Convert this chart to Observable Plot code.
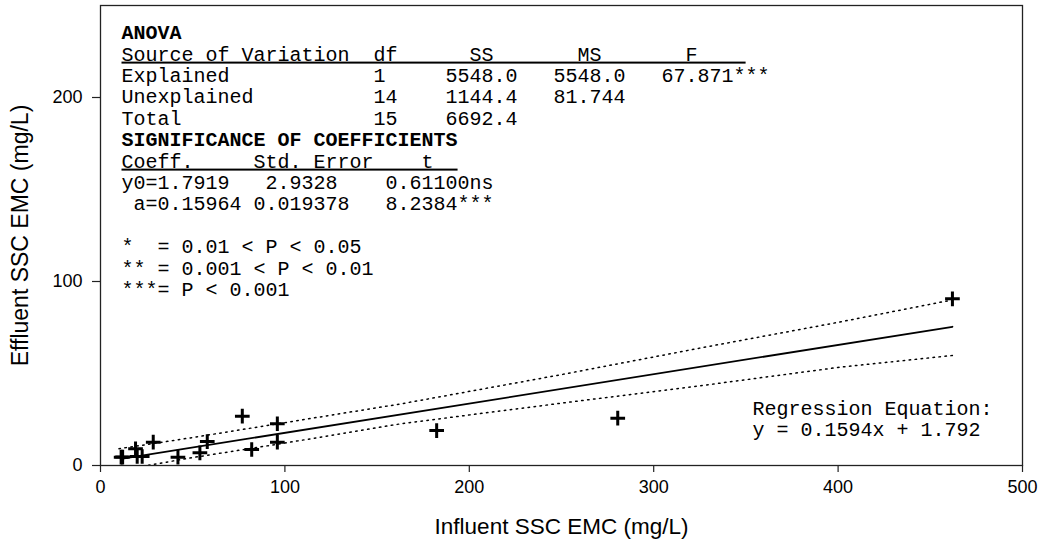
<!DOCTYPE html>
<html>
<head>
<meta charset="utf-8">
<script src="https://cdn.jsdelivr.net/npm/d3@7"></script>
<script src="https://cdn.jsdelivr.net/npm/@observablehq/plot@0.6"></script>
<style>
  html, body { margin: 0; padding: 0; background: #fff; }
  .ul text { text-decoration: underline; text-decoration-thickness: 1.3px; text-underline-offset: 3px; }
</style>
</head>
<body>
<div id="chart"></div>
<script>
// ---- data ----
const influent = [11.2, 12.0, 19.0, 19.9, 22.6, 28.6, 42.0, 53.9, 57.9, 76.9, 82.0, 95.9, 95.9, 182.3, 280.5, 462.0];
const effluent = [4.5, 4.6, 9.1, 4.9, 4.9, 12.7, 4.5, 6.9, 13.0, 26.8, 8.7, 22.7, 12.7, 19.0, 25.7, 90.6];

// fitted line end points (y = 0.1594x + 1.792)
const fitX = [11.2, 462.0];
const fitY = [3.6, 75.4];

// dotted confidence band
const bandX = [10, 50, 100, 163, 250, 325, 400, 462];
const bandUpper = [9.1, 15.2, 23.3, 33.5, 49.4, 63.8, 77.8, 90.0];
const bandLower = [-2.6, 4.3, 12.2, 22.7, 33.9, 43.3, 53.3, 59.8];

const xTicks = [0, 100, 200, 300, 400, 500];
const yTicks = [0, 100, 200];

const xTitle = "Influent SSC EMC (mg/L)";
const yTitle = "Effluent SSC EMC (mg/L)";

// [text, bold, underlined]
const reportLines = [
  ["ANOVA", true, false],
  ["Source of Variation  df      SS       MS       F    ", false, true],
  ["Explained            1     5548.0   5548.0   67.871***", false, false],
  ["Unexplained          14    1144.4   81.744", false, false],
  ["Total                15    6692.4", false, false],
  ["SIGNIFICANCE OF COEFFICIENTS", true, false],
  ["Coeff.     Std. Error    t  ", false, true],
  ["y0=1.7919   2.9328    0.61100ns", false, false],
  [" a=0.15964 0.019378   8.2384***", false, false],
  ["", false, false],
  ["*  = 0.01 < P < 0.05", false, false],
  ["** = 0.001 < P < 0.01", false, false],
  ["***= P < 0.001", false, false]
];
const equationLines = ["Regression Equation:", "y = 0.1594x + 1.792"];

// ---- build ----
const points = influent.map((x, i) => ({x, y: effluent[i]}));
const fit = fitX.map((x, i) => ({x, y: fitY[i]}));
const upper = bandX.map((x, i) => ({x, y: bandUpper[i]}));
const lower = bandX.map((x, i) => ({x, y: bandLower[i]}));
const nb = s => s.replace(/ /g, "\u00A0");

const mono = "Liberation Mono, Courier New, monospace";
const lineH = 21.4;
const topY = 19.5;

const reportMarks = reportLines.map(([t, bold, ul], i) =>
  Plot.text([nb(t)], {
    text: d => d, frameAnchor: "top-left", textAnchor: "start", lineAnchor: "top",
    dx: 21, dy: topY + i * lineH, fontFamily: mono, fontSize: 20,
    fontWeight: bold ? "bold" : "normal", fill: "#000",
    className: ul ? "ul" : undefined
  })
);
const eqMarks = equationLines.map((t, i) =>
  Plot.text([nb(t)], {
    text: d => d, frameAnchor: "bottom-left", textAnchor: "start", lineAnchor: "top",
    dx: 652, dy: -65 + i * lineH, fontFamily: mono, fontSize: 20, fill: "#000"
  })
);

const chart = Plot.plot({
  width: 1040,
  height: 544,
  marginLeft: 100,
  marginRight: 18,
  marginTop: 5,
  marginBottom: 79,
  style: {fontFamily: "Liberation Sans, Arial, sans-serif", fontSize: "18px", color: "#000", background: "#fff"},
  x: {domain: [0, 500]},
  y: {domain: [0, 250]},
  marks: [
    Plot.axisX({ticks: xTicks, tickSize: 7, tickPadding: 8, label: null, stroke: "#222", strokeWidth: 1.2}),
    Plot.axisY({ticks: yTicks, tickSize: 8, tickPadding: 10, label: null, stroke: "#222", strokeWidth: 1.2}),
    Plot.text([xTitle], {text: d => d, frameAnchor: "bottom", textAnchor: "middle", dy: 68, fontSize: 22.5, fill: "#000"}),
    Plot.text([yTitle], {text: d => d, frameAnchor: "left", textAnchor: "middle", dx: -80, rotate: -90, fontSize: 23, fill: "#000"}),
    Plot.line(upper, {x: "x", y: "y", stroke: "#000", strokeWidth: 1.5, strokeDasharray: "1.5,4.5", clip: true}),
    Plot.line(lower, {x: "x", y: "y", stroke: "#000", strokeWidth: 1.5, strokeDasharray: "1.5,4.5", clip: true}),
    Plot.line(fit, {x: "x", y: "y", stroke: "#000", strokeWidth: 1.8}),
    Plot.dot(points, {x: "x", y: "y", symbol: "plus", r: 4.8, stroke: "#000", strokeWidth: 3}),
    ...reportMarks,
    ...eqMarks,
    Plot.frame({stroke: "#222", strokeWidth: 1.3})
  ]
});
document.getElementById("chart").appendChild(chart);
</script>
</body>
</html>
